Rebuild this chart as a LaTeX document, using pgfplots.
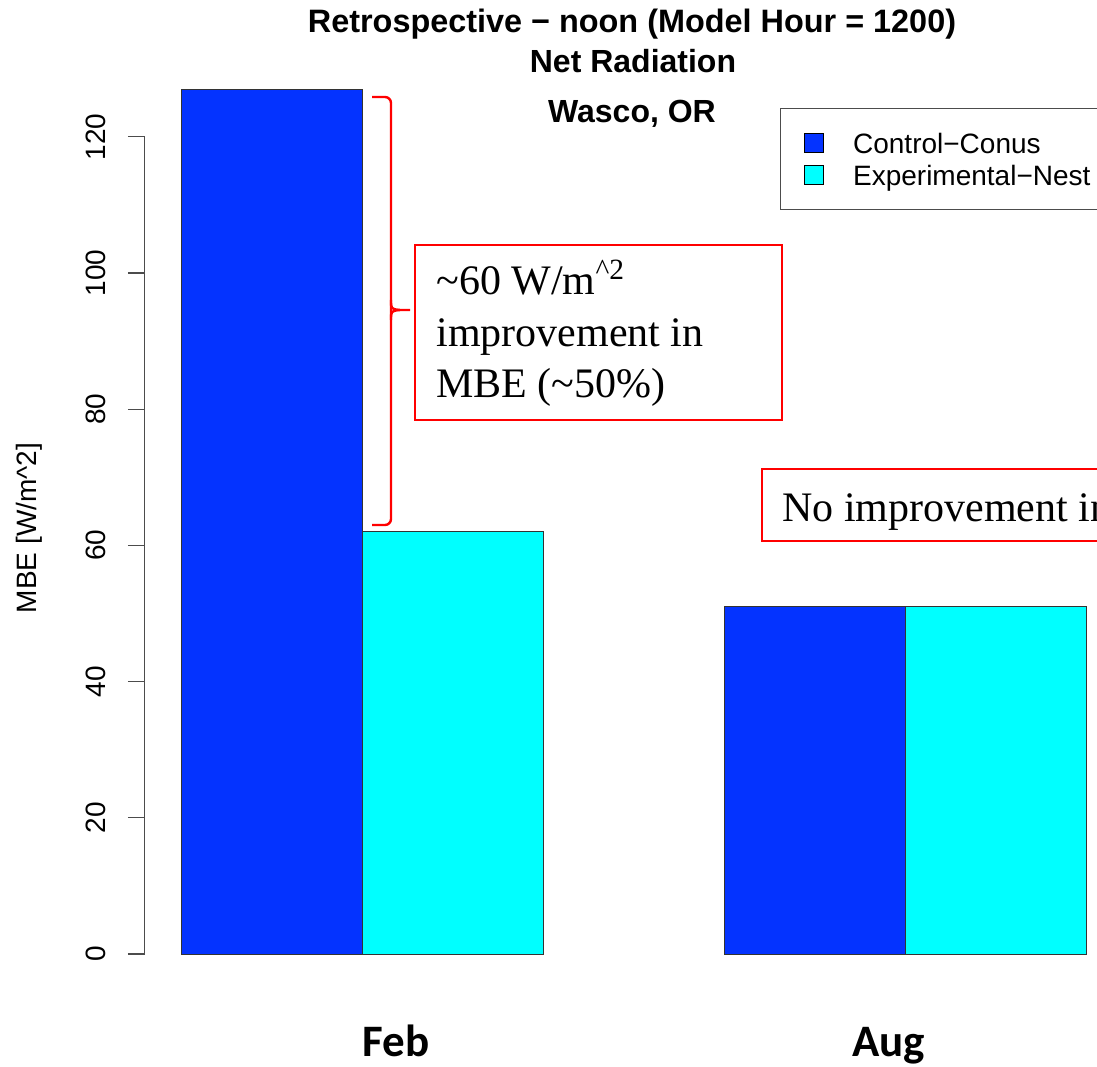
\documentclass[border=0pt]{standalone}
\usepackage{fontspec}
\setmainfont{Liberation Sans}
\newfontfamily\serifannot{Liberation Serif}
\newfontfamily\carlito{Carlito}
\usepackage{pgfplots}
\pgfplotsset{compat=1.18}
\definecolor{ctrlblue}{HTML}{0433FF}
\definecolor{expcyan}{HTML}{00FFFF}
\begin{document}
\begin{tikzpicture}
\useasboundingbox (0,0) rectangle (548.5pt,533pt);
\clip (0,0) rectangle (548.5pt,533pt);
\begin{axis}[
  at={(72.4pt,56pt)}, anchor=south west,
  scale only axis, width=488.7pt, height=408.6pt,
  xmin=0.8, xmax=6.2, ymin=0, ymax=120,
  clip=false,
  axis x line=none, xtick=\empty,
  axis y line=left,
  y axis line style={-, draw=black!70, line width=0.6pt},
  ytick={0,20,40,60,80,100,120},
  tick align=outside, major tick length=8.5pt,
  ytick style={draw=black!70, line width=0.6pt},
  /pgf/number format/assume math mode=true,
  yticklabel style={font=\fontsize{14}{16}\selectfont, rotate=90, anchor=south, inner xsep=0pt, inner ysep=11pt},
  ybar, bar width=1,
  legend image code/.code={\draw[#1,draw=black,line width=0.5pt] (0pt,-4.75pt) rectangle (9.5pt,4.75pt);},
  legend cell align=left,
  legend style={at={(axis description cs:0.6499,1.0352)}, anchor=north west,
    draw=black!70, line width=0.6pt, font=\fontsize{14}{16}\selectfont,
    inner xsep=11.5pt, inner ysep=12.25pt, row sep=6pt, column sep=14.75pt,
    nodes={inner sep=0pt, text height=10pt, text depth=0pt}},
]
\addplot[bar shift=0pt, fill=ctrlblue, draw=black!80, line width=0.5pt] coordinates {(1.5,126.9) (4.5,51.0)};
\addlegendentry{Control−Conus}
\addplot[bar shift=0pt, fill=expcyan, draw=black!80, line width=0.5pt] coordinates {(2.5,62.0) (5.5,51.0)};
\addlegendentry{Experimental−Nest}
\end{axis}
\begin{scope}[shift={(0pt,533pt)}, x=0.5pt, y=-0.5pt]
  % titles
  \node[anchor=base, inner sep=0pt, font=\bfseries\fontsize{16.2}{19}\selectfont] at (632,33) {Retrospective − noon (Model Hour = 1200)};
  \node[anchor=base, inner sep=0pt, font=\bfseries\fontsize{16}{19}\selectfont] at (633,73) {Net Radiation};
  \node[anchor=base, inner sep=0pt, font=\bfseries\fontsize{16}{19}\selectfont] at (632,123) {Wasco, OR};
  % y label
  \node[rotate=90, inner sep=0pt, font=\fontsize{14}{16}\selectfont] at (29.5,528) {MBE [W/m\textasciicircum 2]};
  % category labels
  \node[anchor=base, inner sep=0pt, font=\carlito\bfseries\fontsize{22.5}{27}\selectfont] at (396,1056) {Feb};
  \node[anchor=base, inner sep=0pt, font=\carlito\bfseries\fontsize{22.5}{27}\selectfont] at (888.5,1056) {Aug};
  % brace
  \draw[red, line width=1.2pt, rounded corners=3pt] (372,97) -- (391,97) -- (391,525) -- (372,525);
  \draw[red, line width=1.2pt] (391,300) .. controls (391,309) .. (400,310) -- (410,310);
  \draw[red, line width=1.2pt] (391,320) .. controls (391,311) .. (400,310);
  % annotation boxes
  \draw[red, line width=1pt, fill=white] (415,245) rectangle (782,420);
  \begin{scope}[every node/.style={anchor=base west, inner sep=0pt, font=\serifannot\fontsize{21}{25}\selectfont}]
    \node at (436,295) {\textasciitilde 60 W/m\textsuperscript{\textasciicircum 2}};
    \node at (436,347) {improvement in};
    \node at (436,398) {MBE (\textasciitilde 50\%)};
  \end{scope}
  \draw[red, line width=1pt, fill=white] (762,469) rectangle (1300,541);
  \node[anchor=base west, inner sep=0pt, font=\serifannot\fontsize{21}{25}\selectfont] at (782,522) {No improvement in MBE};
\end{scope}
\end{tikzpicture}
\end{document}
